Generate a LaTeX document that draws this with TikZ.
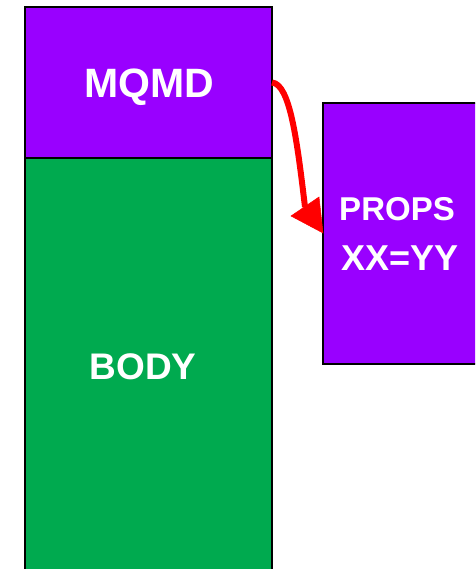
\documentclass[tikz,border=0pt]{standalone}
\usepackage{fontspec}
\setmainfont{Liberation Sans}
\definecolor{hdrpurple}{RGB}{153,0,255}
\definecolor{bodygreen}{RGB}{0,170,79}
\begin{document}
\begin{tikzpicture}[x=1pt,y=-1pt,
  segbox/.style={draw=black, line width=2pt, inner sep=0pt, outer sep=0pt, anchor=north west},
  lbl/.style={text=white, font=\bfseries, inner sep=0pt, anchor=base},
  flow/.style={draw=red, line width=6pt},
  flowhead/.style={fill=red, draw=red, line width=0.5pt, line join=miter}]
\useasboundingbox (0,0) rectangle (475,569);
\clip (0,0) rectangle (475,569);
% message: descriptor on top of the body
\node[segbox, fill=bodygreen, minimum width=247pt, minimum height=430pt] (body) at (25,158) {};
\node[segbox, fill=hdrpurple, minimum width=247pt, minimum height=151pt] (mqmd) at (25,7) {};
% properties block
\node[segbox, fill=hdrpurple, minimum width=180pt, minimum height=261pt] (props) at (323,103) {};
% labels
\node[lbl, font=\bfseries\fontsize{41}{45}\selectfont] (mqmdtxt) at (149,98) {MQMD};
\node[lbl, font=\bfseries\fontsize{37}{41}\selectfont] (bodytxt) at (143,379) {BODY};
\node[lbl, font=\bfseries\fontsize{33}{37}\selectfont] (propstxt) at (397,220) {PROPS};
\node[lbl, font=\bfseries\fontsize{36}{40}\selectfont] (kvtxt) at (400,270) {XX=YY};
% descriptor fields moved into properties: shaft, then head
\coordinate (headbase) at (305,207);
\coordinate (tip) at (323,233);
\coordinate (headl) at (291,216);
\coordinate (headr) at (319,197);
\draw[flow] (mqmd.east) .. controls (290,84) and (297,140) .. (headbase);
\filldraw[flowhead] (tip) -- (headl) -- (headr) -- cycle;
\end{tikzpicture}
\end{document}
